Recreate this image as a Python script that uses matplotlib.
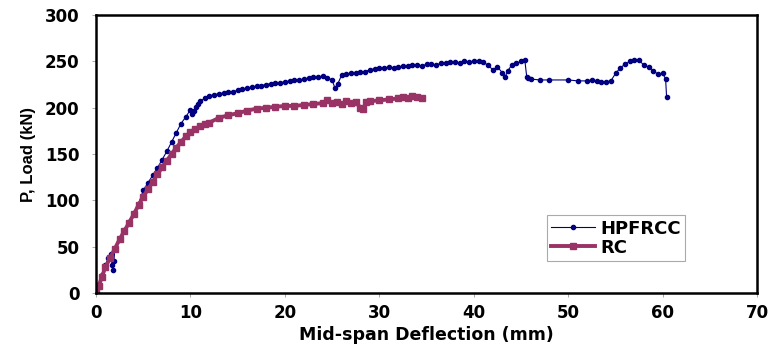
import numpy as np
import matplotlib.pyplot as plt

# HPFRCC load-deflection
hp_x = [0, 0.3, 0.6, 1.0, 1.3, 1.6, 1.7, 1.8, 1.9, 2.0, 2.5, 3.0, 3.5, 4.0, 4.5, 5.0,
        5.5, 6.0, 6.5, 7.0, 7.5, 8.0, 8.5, 9.0, 9.5, 10.0, 10.2, 10.4, 10.6, 10.8,
        11.0, 11.5, 12.0, 12.5, 13.0, 13.5, 14.0, 14.5, 15.0, 15.5, 16.0, 16.5,
        17.0, 17.5, 18.0, 18.5, 19.0, 19.5, 20.0, 20.5, 21.0, 21.5, 22.0, 22.5,
        23.0, 23.5, 24.0, 24.5, 25.0, 25.3, 25.6, 26.0, 26.5, 27.0, 27.5, 28.0,
        28.5, 29.0, 29.5, 30.0, 30.5, 31.0, 31.5, 32.0, 32.5, 33.0, 33.5, 34.0,
        34.5, 35.0, 35.5, 36.0, 36.5, 37.0, 37.5, 38.0, 38.5, 39.0, 39.5, 40.0,
        40.5, 41.0, 41.5, 42.0, 42.5, 43.0, 43.3, 43.6, 44.0, 44.5, 45.0, 45.4,
        45.6, 45.7, 46.0, 47.0, 48.0, 50.0, 51.0, 52.0, 52.5, 53.0, 53.5, 54.0,
        54.5, 55.0, 55.5, 56.0, 56.5, 57.0, 57.5, 58.0, 58.5, 59.0, 59.5, 60.0,
        60.3, 60.4]
hp_y = [0, 10, 20, 30, 38, 42, 30, 25, 35, 48, 58, 68, 77, 86, 96, 111,
        119, 127, 135, 144, 153, 163, 173, 183, 190, 198, 193, 196, 201, 204,
        207, 210, 213, 214, 215, 216, 217, 217, 219, 220, 221, 222,
        223, 224, 225, 226, 227, 227, 228, 229, 230, 230, 231, 232,
        233, 233, 234, 232, 230, 221, 226, 235, 236, 237, 238, 239,
        239, 241, 242, 243, 243, 244, 243, 244, 245, 245, 246, 246,
        245, 247, 247, 246, 248, 248, 249, 249, 248, 250, 249, 250,
        250, 249, 246, 241, 244, 238, 233, 240, 246, 248, 250, 251,
        233, 232, 231, 230, 230, 230, 229, 229, 230, 229, 228, 228,
        229, 237, 243, 247, 250, 252, 251, 246, 244, 240, 236, 237,
        231, 212]

# RC load-deflection
rc_x = [0, 0.3, 0.6, 1.0, 1.5, 2.0, 2.5, 3.0, 3.5, 4.0, 4.5, 5.0, 5.5, 6.0, 6.5,
        7.0, 7.5, 8.0, 8.5, 9.0, 9.5, 10.0, 10.5, 11.0, 11.5, 12.0, 13.0, 14.0,
        15.0, 16.0, 17.0, 18.0, 19.0, 20.0, 21.0, 22.0, 23.0, 24.0, 24.5, 25.0,
        25.5, 26.0, 26.5, 27.0, 27.5, 28.0, 28.3, 28.6, 29.0, 30.0, 31.0, 32.0,
        32.5, 33.0, 33.5, 34.0, 34.5]
rc_y = [0, 8, 17, 28, 38, 48, 58, 67, 76, 85, 95, 104, 112, 120, 128,
        136, 143, 150, 157, 163, 169, 174, 177, 180, 182, 184, 189, 192,
        194, 197, 199, 200, 201, 202, 202, 203, 204, 205, 208, 205,
        206, 204, 207, 205, 206, 200, 199, 206, 207, 208, 209, 210,
        212, 211, 213, 212, 210]

plt.rcParams['font.family'] = ['DejaVu Sans']
plt.rcParams['font.weight'] = 'bold'

fig = plt.figure(figsize=(7.68, 3.51), dpi=100)
ax = fig.add_axes([0.125, 0.165, 0.861, 0.792])

ax.plot(hp_x, hp_y, color='#000080', marker='o', markersize=3, linewidth=0.8,
        label='HPFRCC')
ax.plot(rc_x, rc_y, color='#993366', marker='s', markersize=4, linewidth=2.8,
        label='RC')

ax.set_xlim(0, 70)
ax.set_ylim(0, 300)
ax.set_xticks(range(0, 71, 10))
ax.set_yticks(range(0, 301, 50))
ax.tick_params(labelsize=12, length=3, width=0.6, color='#999999')
ax.tick_params(axis='y', pad=9)
ax.tick_params(axis='x', pad=5)
for s in ax.spines.values():
    s.set_linewidth(1.8)

ax.set_xlabel('Mid-span Deflection (mm)', fontsize=12.5, fontweight='bold',
              labelpad=3)
ax.set_ylabel('P, Load (kN)', fontsize=12, fontweight='bold',
              family='Liberation Sans', labelpad=6)

leg = ax.legend(loc='lower right', bbox_to_anchor=(0.891, 0.115), fontsize=13,
                fancybox=False, framealpha=1, edgecolor='#aaaaaa',
                handlelength=2.4, handletextpad=0.3, borderpad=0.25,
                labelspacing=0.05, borderaxespad=0)
leg.get_frame().set_linewidth(0.8)

fig.savefig('out.png')
